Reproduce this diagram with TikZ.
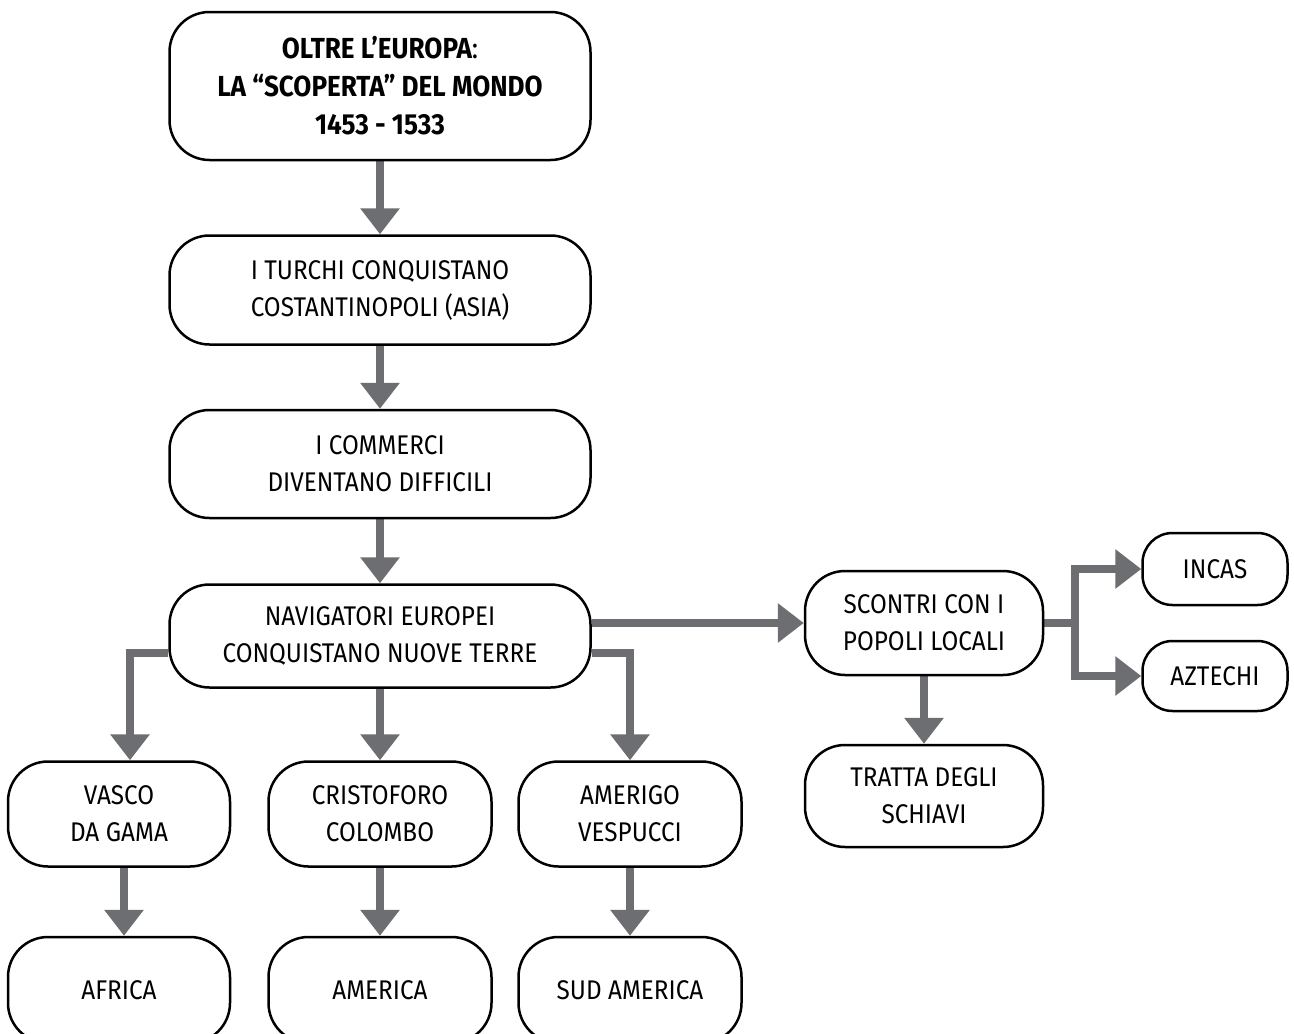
\documentclass[tikz,border=0pt]{standalone}
\usepackage{fontspec}
\setmainfont[FakeStretch=0.9]{Fira Sans}
\usetikzlibrary{arrows.meta}
\pgfdeclarelayer{bg}
\pgfsetlayers{bg,main}
\definecolor{arr}{HTML}{6D6E71}
\begin{document}
\begin{tikzpicture}[x=1pt,y=-1pt,
  box/.style={draw=black,line width=2.5pt,rounded corners=40pt,fill=white,align=center,inner sep=0pt,
    font=\fontsize{27}{37}\selectfont},
  smallbox/.style={box,rounded corners=30pt,minimum width=145pt},
  conn/.style={draw=arr,line width=8pt,-{Triangle[width=38pt,length=26pt]}},
  plain/.style={draw=arr,line width=8pt}]
\useasboundingbox (0,0) rectangle (1294,1034);

\node[box,minimum width=421pt,minimum height=148pt,font=\fontsize{29}{38}\selectfont] (title) at (380,86)
  {\bfseries OLTRE L’EUROPA{\mdseries :}\\\bfseries LA “SCOPERTA” DEL MONDO\\\bfseries 1453 - 1533};
\node[box,minimum width=421pt,minimum height=109pt] (turchi) at (380,290)
  {I TURCHI CONQUISTANO\\COSTANTINOPOLI (ASIA)};
\node[box,minimum width=421pt,minimum height=108pt] (commerci) at (380,464)
  {I COMMERCI\\DIVENTANO DIFFICILI};
\node[box,minimum width=421pt,minimum height=103pt] (nav) at (380,636)
  {NAVIGATORI EUROPEI\\CONQUISTANO NUOVE TERRE};
\node[box,minimum width=238pt,minimum height=104pt] (scontri) at (924,623)
  {SCONTRI CON I\\POPOLI LOCALI};
\node[box,minimum width=238pt,minimum height=102pt] (tratta) at (924,796)
  {TRATTA DEGLI\\SCHIAVI};
\node[smallbox,minimum height=72pt] (incas) at (1215,569) {INCAS};
\node[smallbox,minimum height=70pt] (aztechi) at (1215,676) {AZTECHI};
\node[box,minimum width=222pt,minimum height=105pt] (vasco) at (119,814) {VASCO\\DA GAMA};
\node[box,minimum width=223pt,minimum height=105pt] (cristoforo) at (380,814) {CRISTOFORO\\COLOMBO};
\node[box,minimum width=223pt,minimum height=105pt] (amerigo) at (630,814) {AMERIGO\\VESPUCCI};
\node[box,minimum width=222pt,minimum height=106pt] (africa) at (119,990) {AFRICA};
\node[box,minimum width=223pt,minimum height=106pt] (america) at (380,990) {AMERICA};
\node[box,minimum width=223pt,minimum height=106pt] (sudamerica) at (630,990) {SUD AMERICA};

\coordinate (navlow) at (0,653);
\coordinate (split) at (1075,0);
\begin{pgfonlayer}{bg}
\fill[white] (0,0) rectangle (1294,1034);
\draw[conn] (title) -- (turchi);
\draw[conn] (turchi) -- (commerci);
\draw[conn] (commerci) -- (nav);
\draw[conn] (nav.east |- scontri.west) -- (scontri.west);
\draw[conn] (nav.east |- navlow) -| (amerigo.north);
\draw[conn] (nav.west |- navlow) -| ([xshift=11pt]vasco.north);
\draw[conn] (nav) -- (cristoforo);
\draw[conn] ([xshift=5pt]vasco.south) -- ([xshift=5pt]africa.north);
\draw[conn] (cristoforo) -- (america);
\draw[conn] (amerigo) -- (sudamerica);
\draw[conn] (scontri) -- (tratta);
\draw[plain] (scontri.east) -- (split |- scontri.east);
\draw[conn] (split |- scontri.east) |- (incas.west);
\draw[conn] (split |- scontri.east) |- (aztechi.west);
\end{pgfonlayer}
\end{tikzpicture}
\end{document}
